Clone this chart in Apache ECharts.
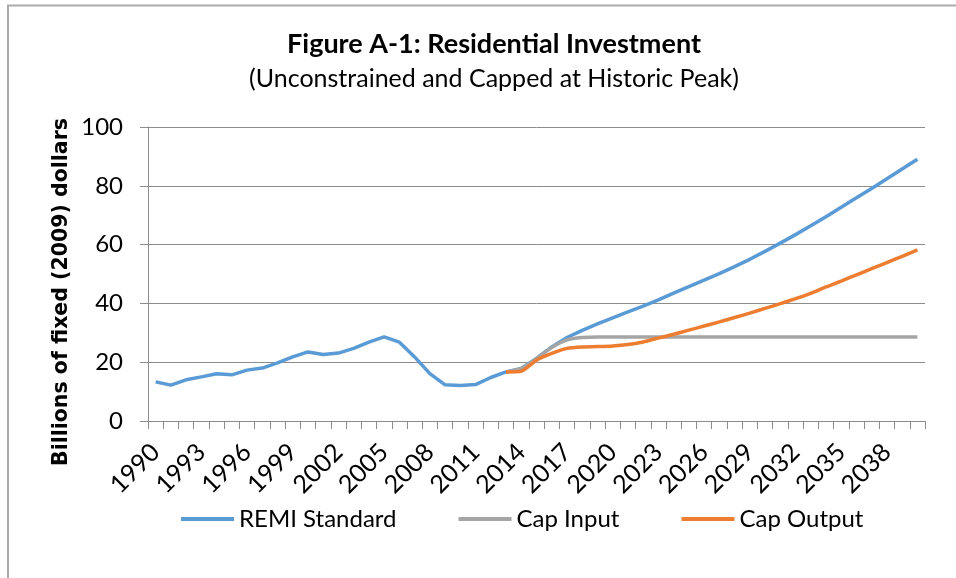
<!DOCTYPE html>
<html>
<head>
<meta charset="utf-8">
<title>Figure A-1: Residential Investment</title>
<script src="https://cdn.jsdelivr.net/npm/echarts@6/dist/echarts.min.js"></script>
<style>
  html, body { margin: 0; padding: 0; background: #fff; }
  #chart { width: 956px; height: 578px; }
</style>
</head>
<body>
<div id="chart"></div>
<script>
// years 1990 - 2040
var years = [];
for (var y = 1990; y <= 2040; y++) years.push(String(y));

var remiStandard = [
  13.3, 12.2, 14.0, 15.0, 16.1, 15.7, 17.3, 18.0, 19.8, 21.8,
  23.5, 22.6, 23.1, 24.7, 26.8, 28.6, 26.8, 21.8, 16.1, 12.3,
  12.1, 12.4, 14.8, 16.7, 17.9, 21.3, 25.2, 28.4, 30.8, 33.0,
  35.1, 37.1, 39.1, 41.2, 43.5, 45.7, 47.9, 50.1, 52.5, 55.0,
  57.7, 60.5, 63.4, 66.4, 69.5, 72.7, 75.9, 79.1, 82.4, 85.7,
  89.0
];

var capInput = [
  null, null, null, null, null, null, null, null, null, null,
  null, null, null, null, null, null, null, null, null, null,
  null, null, null, 16.7, 17.9, 21.3, 25.0, 27.6, 28.4, 28.6,
  28.6, 28.6, 28.6, 28.6, 28.6, 28.6, 28.6, 28.6, 28.6, 28.6,
  28.6, 28.6, 28.6, 28.6, 28.6, 28.6, 28.6, 28.6, 28.6, 28.6,
  28.6
];

var capOutput = [
  null, null, null, null, null, null, null, null, null, null,
  null, null, null, null, null, null, null, null, null, null,
  null, null, null, 16.7, 16.9, 20.7, 23.0, 24.7, 25.2, 25.3,
  25.5, 26.0, 26.9, 28.2, 29.5, 30.9, 32.3, 33.7, 35.2, 36.7,
  38.3, 39.9, 41.6, 43.4, 45.6, 47.6, 49.7, 51.8, 53.9, 56.0,
  58.2
];

var yTicks = [0, 20, 40, 60, 80, 100];

var font = 'Lato, "Open Sans", sans-serif';
var gridColor = '#8c8c8c';

var myChart = echarts.init(document.getElementById('chart'));

myChart.setOption({
  animation: false,
  backgroundColor: '#fff',
  title: {
    text: 'Figure A-1: Residential Investment',
    subtext: '(Unconstrained and Capped at Historic Peak)',
    left: 489,
    textAlign: 'center',
    top: 26,
    itemGap: 8,
    textStyle: { fontFamily: font, fontSize: 27, fontWeight: 'bold', color: '#000' },
    subtextStyle: { fontFamily: font, fontSize: 25, color: '#000' }
  },
  graphic: [
    {
      type: 'rect',
      shape: { x: 8, y: 5.5, width: 1000, height: 1000 },
      style: { fill: 'none', stroke: '#ababab', lineWidth: 2 }
    },
    {
      type: 'text',
      x: 62,
      y: 292,
      rotation: Math.PI / 2,
      style: {
        text: 'Billions of fixed (2009) dollars',
        font: 'bold 20.5px "DejaVu Sans", sans-serif',
        fill: '#000',
        textAlign: 'center',
        textVerticalAlign: 'middle'
      }
    }
  ],
  legend: {
    left: 176,
    top: 502,
    icon: 'rect',
    itemWidth: 53,
    itemHeight: 4,
    itemGap: 62,
    textStyle: { fontFamily: font, fontSize: 24, color: '#000' },
    data: ['REMI Standard', 'Cap Input', 'Cap Output']
  },
  grid: {
    left: 148,
    right: 31,
    top: 127,
    bottom: 157
  },
  xAxis: {
    type: 'category',
    data: years,
    boundaryGap: true,
    axisLine: { lineStyle: { color: gridColor, width: 1 } },
    axisTick: { show: true, interval: 0, length: 8, lineStyle: { color: gridColor } },
    axisLabel: {
      interval: 2,
      rotate: 45,
      margin: 27,
      fontFamily: font,
      fontSize: 25,
      color: '#000'
    },
    splitLine: { show: false }
  },
  yAxis: {
    type: 'value',
    min: yTicks[0],
    max: yTicks[yTicks.length - 1],
    interval: 20,
    axisLine: { show: true, lineStyle: { color: gridColor, width: 1 } },
    axisTick: { show: true, length: 8, lineStyle: { color: gridColor } },
    axisLabel: { margin: 25, fontFamily: font, fontSize: 24, color: '#000' },
    splitLine: { lineStyle: { color: gridColor, width: 1 } }
  },
  series: [
    {
      name: 'REMI Standard',
      type: 'line',
      data: remiStandard,
      showSymbol: false,
      symbol: 'none',
      smooth: false,
      color: '#5b9bd5',
      lineStyle: { width: 3.5, color: '#5b9bd5', join: 'round' },
      z: 3
    },
    {
      name: 'Cap Input',
      type: 'line',
      data: capInput,
      showSymbol: false,
      symbol: 'none',
      smooth: 0.25,
      color: '#a5a5a5',
      lineStyle: { width: 3.5, color: '#a5a5a5' },
      z: 4
    },
    {
      name: 'Cap Output',
      type: 'line',
      data: capOutput,
      showSymbol: false,
      symbol: 'none',
      smooth: 0.2,
      color: '#ed7d31',
      lineStyle: { width: 3.5, color: '#ed7d31' },
      z: 5
    }
  ]
});
</script>
</body>
</html>
